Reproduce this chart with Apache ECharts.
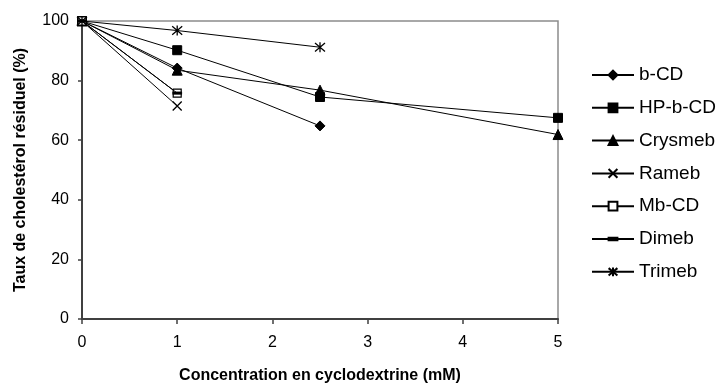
<!DOCTYPE html>
<html>
<head>
<meta charset="utf-8">
<script src="https://cdn.jsdelivr.net/npm/echarts@6/dist/echarts.min.js"></script>
<style>
  html, body { margin: 0; padding: 0; background: #fff; }
  #chart { width: 722px; height: 389px; }
</style>
</head>
<body>
<div id="chart"></div>
<script>
// Residual cholesterol (%) vs cyclodextrine concentration (mM)
const seriesNames = ['b-CD', 'HP-b-CD', 'Crysmeb', 'Rameb', 'Mb-CD', 'Dimeb', 'Trimeb'];

const bCDx = [0, 1, 2.5];
const bCDy = [100, 84.2, 64.8];

const hpbCDx = [0, 1, 2.5, 5];
const hpbCDy = [100, 90.2, 74.5, 67.5];

const crysmebX = [0, 1, 2.5, 5];
const crysmebY = [100, 83.5, 76.8, 61.9];

const ramebX = [0, 1];
const ramebY = [100, 71.5];

const mbCDx = [0, 1];
const mbCDy = [100, 75.8];

const dimebX = [0, 1];
const dimebY = [100, 75.8];

const trimebX = [0, 1, 2.5];
const trimebY = [100, 96.8, 91.2];

const xTicks = [0, 1, 2, 3, 4, 5];
const yTicks = [0, 20, 40, 60, 80, 100];

const FONT = '"Liberation Sans", Arial, sans-serif';

function pairs(xs, ys) { return xs.map((x, i) => [x, ys[i]]); }

// open-stroke glyphs; the leading moveTo points fix the square bounding box
const crossPath = 'path://M0,0L10,10M10,0L0,10';
const starPath = 'path://M0,0L10,10M10,0L0,10M5,-1L5,11';
const dashPath = 'path://M0,0M10,10M0,3.6L10,3.6L10,6.4L0,6.4Z';

const markers = {
  'b-CD':    { symbol: 'diamond', size: 10, fill: '#000', bw: 1 },
  'HP-b-CD': { symbol: 'rect', size: 9, fill: '#000', bw: 1 },
  'Crysmeb': { symbol: 'triangle', size: 10, fill: '#000', bw: 1 },
  'Rameb':   { symbol: crossPath, size: 9, fill: 'none', bw: 1.3 },
  'Mb-CD':   { symbol: 'rect', size: 8, fill: '#fff', bw: 1.2 },
  'Dimeb':   { symbol: dashPath, size: 9, fill: '#000', bw: 0.5 },
  'Trimeb':  { symbol: starPath, size: 10, fill: 'none', bw: 1.3 }
};

const seriesData = {
  'b-CD': pairs(bCDx, bCDy),
  'HP-b-CD': pairs(hpbCDx, hpbCDy),
  'Crysmeb': pairs(crysmebX, crysmebY),
  'Rameb': pairs(ramebX, ramebY),
  'Mb-CD': pairs(mbCDx, mbCDy),
  'Dimeb': pairs(dimebX, dimebY),
  'Trimeb': pairs(trimebX, trimebY)
};

const chart = echarts.init(document.getElementById('chart'), null, { renderer: 'canvas' });

chart.setOption({
  animation: false,
  backgroundColor: '#fff',
  textStyle: { fontFamily: FONT },
  grid: {
    left: 82, right: 164, top: 21, bottom: 66,
    show: true, borderColor: '#8c8c8c', borderWidth: 1.5, backgroundColor: '#fff'
  },
  legend: {
    orient: 'vertical',
    left: 591,
    top: 65,
    padding: 0,
    itemWidth: 42,
    itemHeight: 11,
    itemGap: 12.8,
    data: seriesNames,
    textStyle: { fontFamily: FONT, fontSize: 19, color: '#000', lineHeight: 20 },
    selectedMode: false
  },
  xAxis: {
    type: 'value',
    min: xTicks[0], max: xTicks[xTicks.length - 1], interval: 1,
    name: 'Concentration en cyclodextrine (mM)',
    nameLocation: 'middle',
    nameGap: 49,
    nameTextStyle: { fontFamily: FONT, fontSize: 16, fontWeight: 'bold', color: '#000' },
    axisLine: { show: true, lineStyle: { color: '#404040', width: 2 } },
    axisTick: { show: true, length: 5, lineStyle: { color: '#404040', width: 1.5 } },
    axisLabel: { fontFamily: FONT, fontSize: 16, color: '#000', margin: 16 },
    splitLine: { show: false }
  },
  yAxis: {
    type: 'value',
    min: yTicks[0], max: yTicks[yTicks.length - 1], interval: 20,
    name: 'Taux de cholestérol résiduel (%)',
    nameLocation: 'middle',
    nameGap: 53,
    nameTextStyle: { fontFamily: FONT, fontSize: 16, fontWeight: 'bold', color: '#000' },
    axisLine: { show: true, lineStyle: { color: '#404040', width: 2 } },
    axisTick: { show: true, length: 4, lineStyle: { color: '#404040', width: 1.5 } },
    axisLabel: { fontFamily: FONT, fontSize: 16, color: '#000', margin: 13 },
    splitLine: { show: false }
  },
  series: seriesNames.map(name => ({
    name: name,
    type: 'line',
    data: seriesData[name],
    symbol: markers[name].symbol,
    symbolSize: markers[name].size,
    showAllSymbol: true,
    lineStyle: { color: '#000', width: 1 },
    itemStyle: { color: markers[name].fill, borderColor: '#000', borderWidth: markers[name].bw, opacity: 1 },
    emphasis: { disabled: true },
    z: name === 'Dimeb' ? 3 : 2
  }))
});
</script>
</body>
</html>
